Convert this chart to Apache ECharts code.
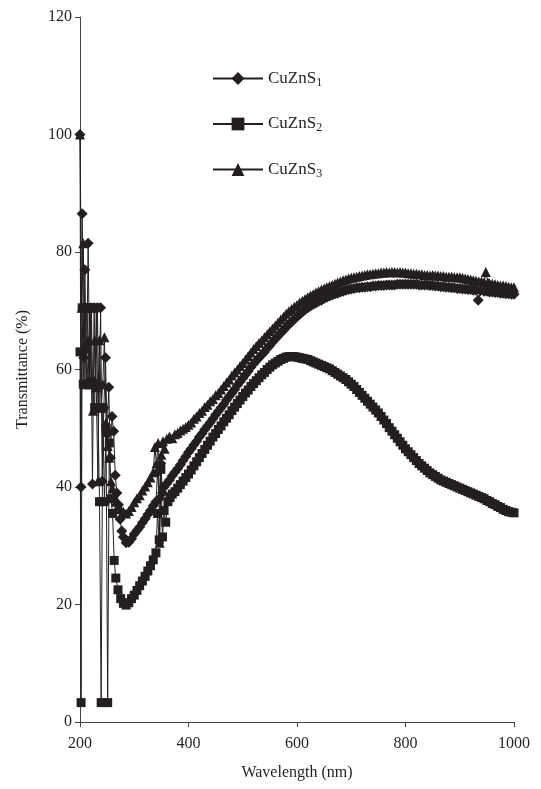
<!DOCTYPE html>
<html>
<head>
<meta charset="utf-8">
<script src="https://cdn.jsdelivr.net/npm/echarts@6/dist/echarts.min.js"></script>
<style>html,body{margin:0;padding:0;background:#fff}#c{width:541px;height:789px}</style>
</head>
<body>
<div id="c"></div>
<script>
const xTicks = [200, 400, 600, 800, 1000];
const yTicks = [0, 20, 40, 60, 80, 100, 120];
const seriesNames = ['CuZnS1', 'CuZnS2', 'CuZnS3'];

// CuZnS1 (diamonds): [wavelength nm, transmittance %]
const cuzns1 = [[200,100],[202,40],[204,86.5],[207,62],[209,77],[212,57.5],[215,81.5],[218,57.5],[220,70.5],[223,40.5],[226,70.5],[229,57.5],[232,70.5],[235,53.5],[238,70.5],[241,41],[244,53.5],[247,62],[250,49],[253,57],[256,45],[259,52],[262,49.5],[265,42],[268,39],[271,37],[274,34.5],[277,32.5],[280,31.5],[285,30.5],[290,30.6],[295,31.2],[300,32],[305,32.6],[310,33.2],[315,33.9],[320,34.6],[325,35.3],[330,36],[335,36.8],[340,37.5],[343,42.5],[346,38],[349,44],[352,39],[355,40],[360,40.6],[365,41.2],[370,41.9],[375,42.5],[380,43.1],[385,43.8],[390,44.5],[395,45.2],[400,45.9],[405,46.5],[410,47.2],[415,47.8],[420,48.5],[425,49.1],[430,49.8],[435,50.4],[440,51],[445,51.6],[450,52.3],[455,52.9],[460,53.5],[465,54.1],[470,54.8],[475,55.4],[480,56],[485,56.6],[490,57.3],[495,57.9],[500,58.5],[505,59.1],[510,59.7],[515,60.4],[520,61],[525,61.5],[530,62],[535,62.5],[540,63],[545,63.6],[550,64.1],[555,64.7],[560,65.2],[565,65.7],[570,66.2],[575,66.7],[580,67.2],[585,67.7],[590,68.1],[595,68.6],[600,69],[605,69.4],[610,69.8],[615,70.2],[620,70.5],[625,70.8],[630,71.1],[635,71.3],[640,71.6],[645,71.8],[650,72.1],[655,72.3],[660,72.5],[665,72.7],[670,72.9],[675,73],[680,73.2],[685,73.3],[690,73.5],[695,73.6],[700,73.7],[705,73.8],[710,73.9],[715,73.9],[720,74],[725,74],[730,74.1],[735,74.1],[740,74.2],[745,74.2],[750,74.3],[755,74.3],[760,74.3],[765,74.4],[770,74.4],[775,74.4],[780,74.4],[785,74.5],[790,74.5],[795,74.5],[800,74.5],[805,74.5],[810,74.5],[815,74.5],[820,74.5],[825,74.4],[830,74.4],[835,74.4],[840,74.4],[845,74.3],[850,74.3],[855,74.2],[860,74.2],[865,74.1],[870,74.1],[875,74],[880,74],[885,73.9],[890,73.9],[895,73.8],[900,73.8],[905,73.7],[910,73.7],[915,73.6],[920,73.6],[925,73.5],[930,73.5],[934,71.8],[938,73.4],[945,73.3],[950,73.3],[955,73.2],[960,73.2],[965,73.1],[970,73.1],[975,73],[980,73],[985,72.9],[990,72.9],[995,72.8],[1000,72.8]];

// CuZnS2 (squares)
const cuzns2 = [[200,63],[202,3.3],[204,70.5],[206,57.5],[209,70.5],[212,63.5],[215,57.5],[218,70.5],[221,58],[224,57.5],[227,53.5],[230,70.5],[233,53.5],[236,37.5],[239,3.3],[242,53.5],[245,37.5],[248,50],[251,3.3],[254,47.5],[257,38],[260,35.5],[263,27.5],[266,24.5],[270,22.5],[275,21],[280,20.2],[285,19.9],[290,20.3],[295,21],[300,21.6],[305,22.4],[310,23.2],[315,24],[320,24.8],[325,25.7],[330,26.6],[335,27.6],[340,28.8],[343,35.5],[346,31],[349,43],[352,31.5],[355,36],[358,34],[362,37.5],[366,38.2],[370,38.8],[375,39.2],[380,39.8],[385,40.4],[390,41],[395,41.6],[400,42.2],[405,42.9],[410,43.6],[415,44.3],[420,45],[425,45.7],[430,46.4],[435,47.1],[440,47.8],[445,48.5],[450,49.1],[455,49.8],[460,50.4],[465,51.1],[470,51.7],[475,52.3],[480,53],[485,53.6],[490,54.2],[495,54.8],[500,55.4],[505,56],[510,56.5],[515,57.1],[520,57.6],[525,58.1],[530,58.6],[535,59.1],[540,59.5],[545,60],[550,60.4],[555,60.8],[560,61.1],[565,61.4],[570,61.7],[575,61.9],[580,62.1],[585,62.2],[590,62.2],[595,62.2],[600,62.1],[605,62],[610,61.9],[615,61.8],[620,61.7],[625,61.5],[630,61.3],[635,61.1],[640,60.9],[645,60.7],[650,60.5],[655,60.3],[660,60.1],[665,59.8],[670,59.5],[675,59.2],[680,58.9],[685,58.6],[690,58.3],[695,57.9],[700,57.5],[705,57.1],[710,56.6],[715,56.1],[720,55.6],[725,55.1],[730,54.6],[735,54.1],[740,53.6],[745,53.1],[750,52.6],[755,52],[760,51.4],[765,50.8],[770,50.1],[775,49.5],[780,48.9],[785,48.3],[790,47.7],[795,47.1],[800,46.5],[805,46],[810,45.5],[815,45],[820,44.5],[825,44],[830,43.6],[835,43.2],[840,42.8],[845,42.4],[850,42.1],[855,41.8],[860,41.5],[865,41.2],[870,41],[875,40.8],[880,40.6],[885,40.4],[890,40.2],[895,40],[900,39.8],[905,39.6],[910,39.4],[915,39.2],[920,39],[925,38.8],[930,38.6],[935,38.4],[940,38.2],[945,38],[950,37.7],[955,37.5],[960,37.2],[965,37],[970,36.7],[975,36.5],[980,36.2],[985,36],[990,35.8],[995,35.7],[1000,35.6]];

// CuZnS3 (triangles)
const cuzns3 = [[200,100],[203,70.5],[206,81.5],[209,57.5],[212,70.5],[215,65],[218,57.5],[221,70.5],[224,53],[227,65],[230,57],[233,41],[236,65],[239,53.5],[242,57.5],[245,65.5],[248,51],[251,47],[254,45],[257,41],[260,39.8],[263,38.5],[266,37.5],[270,36.8],[275,36.2],[280,35.8],[285,35.5],[290,35.9],[295,36.6],[300,37.4],[305,38.1],[310,38.6],[315,39.4],[320,40.1],[325,40.8],[330,41.6],[335,42.5],[338,46.8],[341,44],[344,47.5],[347,30.5],[350,45.5],[353,47.8],[356,46.5],[360,48.2],[365,48.6],[370,48.3],[375,49],[380,49.2],[385,49.6],[390,49.9],[395,50.2],[400,50.6],[405,51],[410,51.6],[415,52],[420,52.6],[425,53],[430,53.6],[435,54],[440,54.6],[445,55],[450,55.6],[455,56],[460,56.6],[465,57.2],[470,57.8],[475,58.3],[480,59],[485,59.5],[490,60],[495,60.6],[500,61.1],[505,61.7],[510,62.3],[515,62.9],[520,63.5],[525,64],[530,64.5],[535,65],[540,65.5],[545,66],[550,66.5],[555,67],[560,67.5],[565,68],[570,68.5],[575,69],[580,69.5],[585,69.9],[590,70.3],[595,70.7],[600,71],[605,71.4],[610,71.7],[615,72],[620,72.3],[625,72.6],[630,72.8],[635,73.1],[640,73.3],[645,73.6],[650,73.8],[655,74],[660,74.2],[665,74.4],[670,74.6],[675,74.8],[680,75],[685,75.2],[690,75.3],[695,75.5],[700,75.6],[705,75.7],[710,75.8],[715,75.9],[720,76],[725,76.1],[730,76.2],[735,76.2],[740,76.3],[745,76.4],[750,76.4],[755,76.5],[760,76.5],[765,76.6],[770,76.5],[775,76.6],[780,76.6],[785,76.5],[790,76.6],[795,76.5],[800,76.5],[805,76.4],[810,76.4],[815,76.3],[820,76.3],[825,76.2],[830,76.2],[835,76.1],[840,76.1],[845,76],[850,76.1],[855,76],[860,76],[865,75.9],[870,75.9],[875,75.8],[880,75.8],[885,75.8],[890,75.7],[895,75.7],[900,75.7],[905,75.6],[910,75.5],[915,75.4],[920,75.3],[925,75.2],[930,75.1],[935,75],[940,75],[945,74.9],[948,76.6],[952,74.8],[955,74.7],[960,74.6],[965,74.5],[970,74.4],[975,74.3],[980,74.3],[985,74.2],[990,74.1],[995,74],[1000,74]];

const FONT = '"Liberation Serif", "DejaVu Serif", serif';
const INK = '#231f20';

const chart = echarts.init(document.getElementById('c'), null, {renderer: 'canvas'});

function mkSeries(name, data, symbol, size) {
  return {
    name: name, type: 'line', data: data,
    symbol: symbol, symbolSize: size, showAllSymbol: true,
    lineStyle: {color: INK, width: 1},
    itemStyle: {color: INK, borderWidth: 0},
    emphasis: {disabled: true},
    animation: false
  };
}

chart.setOption({
  animation: false,
  backgroundColor: '#fff',
  grid: {left: 80, right: 27, top: 17, bottom: 67},
  legend: {
    orient: 'vertical', left: 207, top: 65,
    itemWidth: 50, itemHeight: 16, itemGap: 27,
    data: seriesNames,
    formatter: function (n) { return 'CuZnS{sub|' + n.slice(-1) + '}'; },
    textStyle: {
      fontFamily: FONT, fontSize: 17, color: INK,
      rich: {sub: {fontFamily: FONT, fontSize: 12, color: INK, verticalAlign: 'bottom', padding: [8, 0, 0, 0]}}
    }
  },
  xAxis: {
    type: 'value', min: xTicks[0], max: xTicks[xTicks.length - 1], interval: 200,
    name: 'Wavelength (nm)', nameLocation: 'middle', nameGap: 43,
    nameTextStyle: {fontFamily: FONT, fontSize: 16, color: INK},
    axisLine: {onZero: false, lineStyle: {color: '#444', width: 1}},
    axisTick: {show: true, inside: false, length: 5, lineStyle: {color: '#444'}},
    axisLabel: {fontFamily: FONT, fontSize: 16, color: INK, margin: 14, formatter: function (v) { return String(v); }},
    splitLine: {show: false}
  },
  yAxis: {
    type: 'value', min: yTicks[0], max: yTicks[yTicks.length - 1], interval: 20,
    name: 'Transmittance (%)', nameLocation: 'middle', nameGap: 49,
    nameTextStyle: {fontFamily: FONT, fontSize: 16, color: INK},
    axisLine: {show: true, lineStyle: {color: '#444', width: 1}},
    axisTick: {show: true, inside: false, length: 5, lineStyle: {color: '#444'}},
    axisLabel: {fontFamily: FONT, fontSize: 16, color: INK, margin: 8},
    splitLine: {show: false}
  },
  series: [
    mkSeries(seriesNames[0], cuzns1, 'diamond', 11),
    mkSeries(seriesNames[1], cuzns2, 'rect', 9),
    mkSeries(seriesNames[2], cuzns3, 'triangle', 10)
  ]
});
</script>
</body>
</html>
